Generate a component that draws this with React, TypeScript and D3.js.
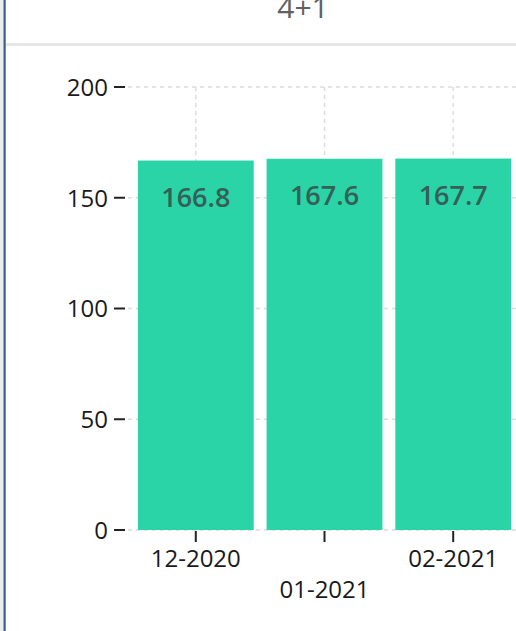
import React from "react";
import * as d3 from "d3";

const categories = ["12-2020", "01-2021", "02-2021"];
const values = [166.8, 167.6, 167.7];
const yTicks = [0, 50, 100, 150, 200];
const title = "4+1";

const W = 516;
const H = 631;

export default function App() {
  const y = d3.scaleLinear().domain([0, 200]).range([530, 87]);
  const x = d3.scaleBand<string>().domain(categories).range([125, 524]).paddingInner(0.1).paddingOuter(0.1);
  const font = "'Open Sans', 'Noto Sans', sans-serif";
  return (
    <svg width={W} height={H} style={{ position: "absolute", left: 0, top: 0, background: "#fff" }}>
      <rect x={0} y={0} width={3.5} height={H} fill="#e9edf0" />
      <rect x={3.5} y={0} width={2.2} height={H} fill="#3b5b85" />
      <rect x={6} y={43} width={W - 6} height={3} fill="#e6e6e6" />
      <text x={303} y={18} textAnchor="middle" fontFamily={font} fontSize={30} fill="#616161">{title}</text>
      {/* grid */}
      {yTicks.map((t) => (
        <line key={"g" + t} x1={128} x2={W} y1={y(t)} y2={y(t)} stroke="#dcdcdc" strokeWidth={1.5} strokeDasharray="4,4" />
      ))}
      {categories.map((c) => (
        <line key={"v" + c} x1={x(c)! + x.bandwidth() / 2} x2={x(c)! + x.bandwidth() / 2} y1={y(200)} y2={y(0)} stroke="#dcdcdc" strokeWidth={1.5} strokeDasharray="4,4" />
      ))}
      {/* bars */}
      {categories.map((c, i) => (
        <rect key={"b" + c} x={x(c)} y={y(values[i])} width={x.bandwidth()} height={y(0) - y(values[i])} fill="#2ad4a6" />
      ))}
      {categories.map((c, i) => (
        <text key={"l" + c} x={x(c)! + x.bandwidth() / 2} y={y(values[i]) + 46} textAnchor="middle" fontFamily={font} fontSize={27} fontWeight={600} fill="#355f57">
          {values[i].toFixed(1)}
        </text>
      ))}
      {/* y axis */}
      {yTicks.map((t) => (
        <g key={"y" + t}>
          <line x1={114} x2={125} y1={y(t)} y2={y(t)} stroke="#222" strokeWidth={2} />
          <text x={108} y={y(t)} dy="0.37em" textAnchor="end" fontFamily={font} fontSize={24} fill="#1a1a1a">{t}</text>
        </g>
      ))}
      {/* x axis */}
      {categories.map((c, i) => {
        const cx = x(c)! + x.bandwidth() / 2;
        return (
          <g key={"x" + c}>
            <line x1={cx} x2={cx} y1={531} y2={542} stroke="#222" strokeWidth={2} />
            <text x={cx} y={i % 2 === 0 ? 567 : 598} textAnchor="middle" fontFamily={font} fontSize={24} fill="#1a1a1a">{c}</text>
          </g>
        );
      })}
    </svg>
  );
}
